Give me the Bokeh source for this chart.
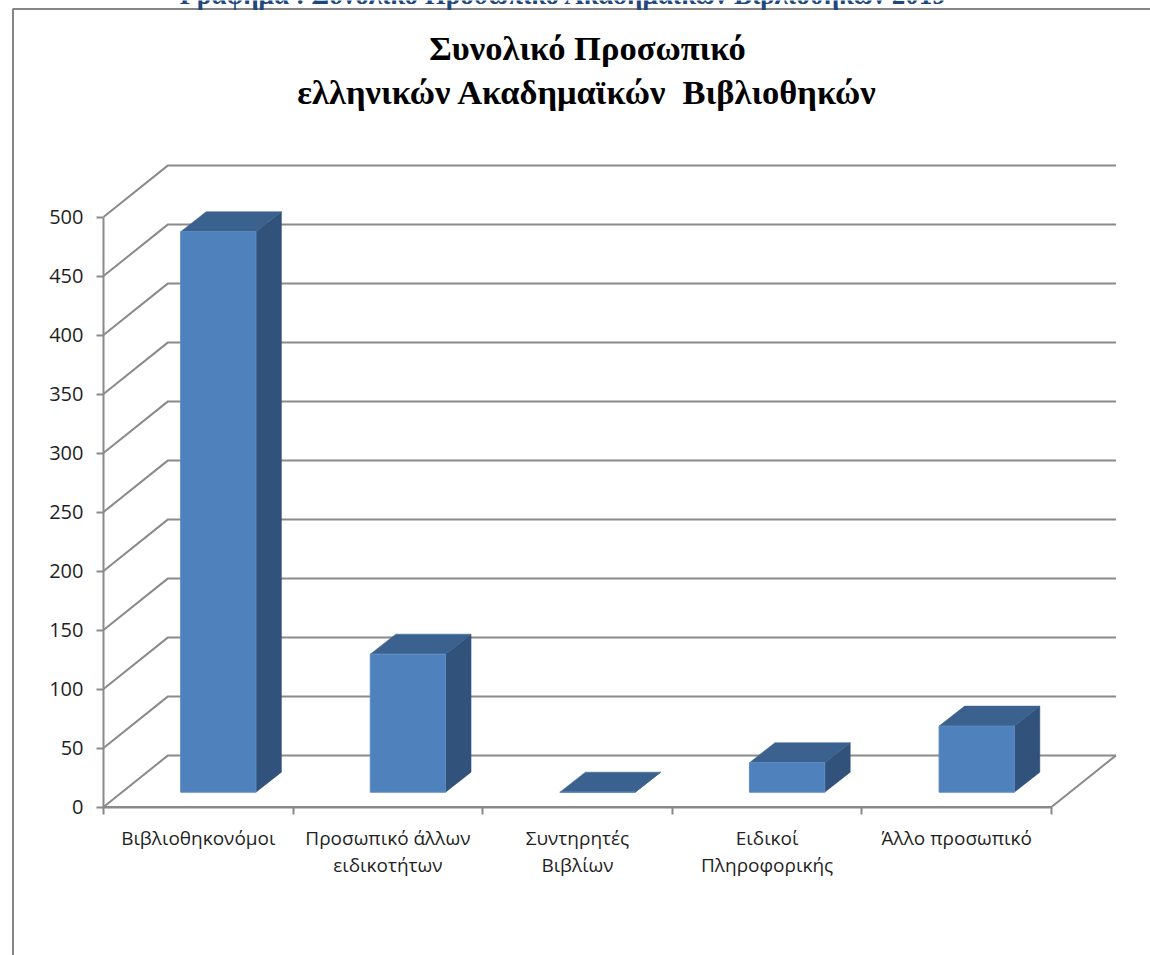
from bokeh.embed import file_html
from bokeh.resources import INLINE
from bokeh.plotting import figure
from bokeh.models import LinearAxis, FixedTicker, Range1d, BoxAnnotation, Label

categories = ["Βιβλιοθηκονόμοι", "Προσωπικό άλλων\nειδικοτήτων", "Συντηρητές\nΒιβλίων", "Ειδικοί\nΠληροφορικής", "Άλλο προσωπικό"]
values = [475, 117, 0, 25, 56]
y_ticks = [0, 50, 100, 150, 200, 250, 300, 350, 400, 450, 500]
page_title = "Γράφημα : Συνολικό Προσωπικό Ακαδημαϊκών Βιβλιοθηκών 2019"
chart_title = "Συνολικό Προσωπικό\nελληνικών Ακαδημαϊκών\u00a0 Βιβλιοθηκών"

W, H = 1150, 955
X0, PX_CAT = 103.0, 189.6
Y0, PX_VAL = 806.5, 1.18
WALL_DX = 64.5 / PX_CAT
WALL_DY = 51.6 / PX_VAL
BAR_L, BAR_W = 0.407, 0.397
BAR_BASE = 14.8 / PX_VAL
BAR_DX = 25.5 / PX_CAT
BAR_DY = 20.0 / PX_VAL
GRID = "#8a8a8a"
FONT = "Open Sans"
SERIF = "Liberation Serif"

def sx(px):
    return (px - X0) / PX_CAT

def sy(py):
    return (Y0 - py) / PX_VAL

p = figure(width=W, height=H, output_backend="svg", toolbar_location=None,
           x_range=Range1d(sx(0), sx(W)), y_range=Range1d(sy(H), sy(0)),
           x_axis_type=None, y_axis_type=None,
           min_border=0, min_border_left=0, min_border_right=0, min_border_top=0, min_border_bottom=0,
           background_fill_color="white", border_fill_color="white",
           outline_line_color=None)
p.grid.visible = False

# chart-area border: right and bottom sides lie past the page edge, as in the reference
p.add_layout(BoxAnnotation(left=sx(12.5), right=sx(W + 20), top=sy(8.5), bottom=sy(H + 20),
                           fill_alpha=0, line_color="#858585", line_alpha=1, line_width=2))

# walls and gridlines
n = len(categories)
for v in y_ticks:
    p.line([0, WALL_DX, n + WALL_DX], [v, v + WALL_DY, v + WALL_DY], line_color=GRID, line_width=2)
p.line([0, n, n + WALL_DX], [0, 0, WALL_DY], line_color=GRID, line_width=2)

# 3D bars
lefts = [i + BAR_L for i in range(n)]
rights = [l + BAR_W for l in lefts]
tops = [BAR_BASE + v for v in values]
base = [BAR_BASE] * n
p.patches([[r, r + BAR_DX, r + BAR_DX, r] for r in rights],
          [[BAR_BASE, BAR_BASE + BAR_DY, t + BAR_DY, t] for t in tops],
          fill_color="#31527a", line_color="#31527a", line_width=0.5)
p.patches([[l, l + BAR_DX, r + BAR_DX, r] for l, r in zip(lefts, rights)],
          [[t, t + BAR_DY, t + BAR_DY, t] for t in tops],
          fill_color="#3b618e", line_color="#3b618e", line_width=0.5)
p.quad(left=lefts, right=rights, bottom=base, top=tops,
       fill_color="#4f81bd", line_color="#5c8cc4", line_width=1)

# axes
ya = LinearAxis(fixed_location=0, ticker=FixedTicker(ticks=y_ticks), bounds=(0, 500))
ya.axis_line_color = GRID
ya.axis_line_width = 2
ya.major_tick_line_color = GRID
ya.major_tick_line_width = 2
ya.major_tick_out = 7
ya.major_tick_in = 0
ya.minor_tick_out = 0
ya.minor_tick_in = 0
ya.major_label_standoff = 13
ya.major_label_text_font = FONT
ya.major_label_text_font_size = "20px"
ya.major_label_text_color = "#1f1f1f"
p.add_layout(ya, "left")

label_ticks = [i + 0.5 for i in range(n)]
xa = LinearAxis(fixed_location=0, bounds=(0, n),
                ticker=FixedTicker(ticks=label_ticks, minor_ticks=list(range(n + 1))))
xa.major_label_overrides = dict(zip(label_ticks, categories))
xa.axis_line_color = GRID
xa.axis_line_width = 2
xa.major_tick_out = 0
xa.major_tick_in = 0
xa.minor_tick_line_color = GRID
xa.minor_tick_line_width = 2
xa.minor_tick_out = 7
xa.minor_tick_in = 0
xa.major_label_standoff = 11
xa.major_label_text_font = FONT
xa.major_label_text_font_size = "19px"
xa.major_label_text_color = "#1f1f1f"
xa.major_label_text_line_height = 1.03
p.add_layout(xa, "below")

# titles
p.add_layout(Label(x=sx(587), y=sy(69.5), text=chart_title, text_align="center", text_baseline="middle",
                   text_font=SERIF, text_font_style="bold", text_font_size="34.5px",
                   text_color="black", text_line_height=1.15))
p.add_layout(Label(x=sx(563), y=sy(-6), text=page_title, text_align="center", text_baseline="alphabetic",
                   text_font=SERIF, text_font_style="bold", text_font_size="27px",
                   text_color="#1f497d"))

open("out.html", "w").write(file_html(p, INLINE))
